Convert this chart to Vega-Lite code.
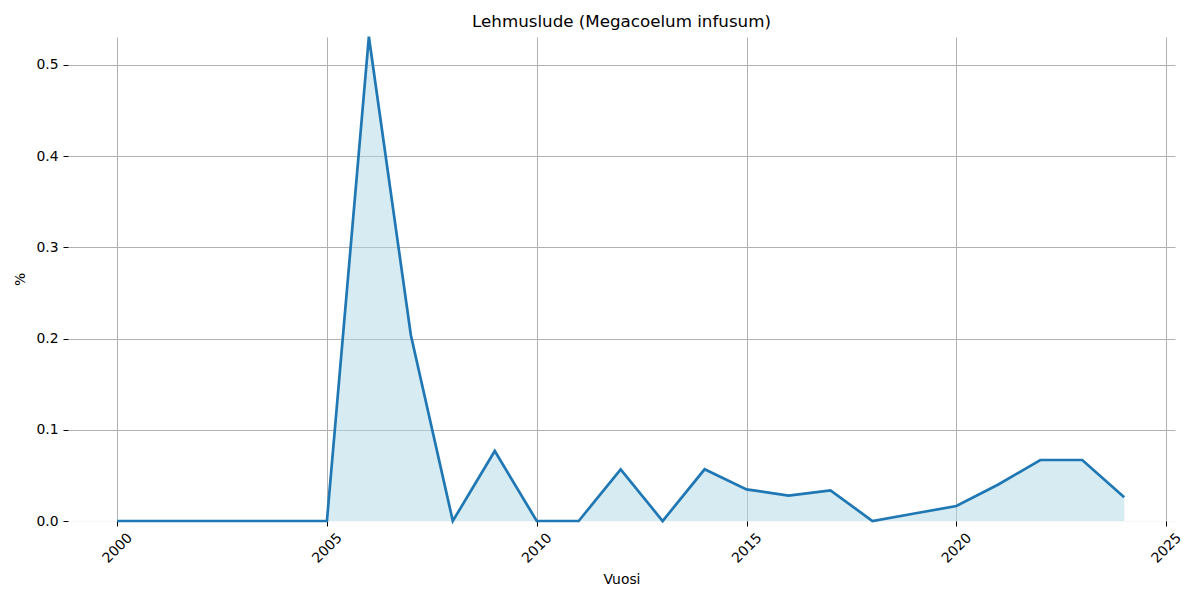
{
  "$schema": "https://vega.github.io/schema/vega-lite/v6.json",
  "width": 1107,
  "height": 484,
  "autosize": {"type": "none"},
  "padding": {"left": 68, "top": 37, "right": 25, "bottom": 79},
  "background": "white",
  "config": {
    "font": "DejaVu Sans",
    "view": {"stroke": null},
    "axis": {
      "domain": false,
      "grid": true,
      "gridColor": "#b0b0b0",
      "gridWidth": 1,
      "tickColor": "#000000",
      "tickSize": 5,
      "tickWidth": 1,
      "labelFont": "DejaVu Sans",
      "labelFontSize": 13.9,
      "labelColor": "#000000",
      "titleFont": "DejaVu Sans",
      "titleFontSize": 13.9,
      "titleFontWeight": "normal",
      "titleColor": "#000000"
    },
    "title": {"font": "DejaVu Sans", "fontSize": 16.7, "fontWeight": "normal", "color": "#000000", "offset": 9, "baseline": "alphabetic", "dy": 8}
  },
  "title": {"text": "Lehmuslude (Megacoelum infusum)", "anchor": "middle"},
  "data": {
    "values": [
      {"Vuosi": 2000, "pct": 0},
      {"Vuosi": 2001, "pct": 0},
      {"Vuosi": 2002, "pct": 0},
      {"Vuosi": 2003, "pct": 0},
      {"Vuosi": 2004, "pct": 0},
      {"Vuosi": 2005, "pct": 0},
      {"Vuosi": 2006, "pct": 0.531},
      {"Vuosi": 2007, "pct": 0.204},
      {"Vuosi": 2008, "pct": 0},
      {"Vuosi": 2009, "pct": 0.0768},
      {"Vuosi": 2010, "pct": 0},
      {"Vuosi": 2011, "pct": 0},
      {"Vuosi": 2012, "pct": 0.0567},
      {"Vuosi": 2013, "pct": 0},
      {"Vuosi": 2014, "pct": 0.0567},
      {"Vuosi": 2015, "pct": 0.0347},
      {"Vuosi": 2016, "pct": 0.0278},
      {"Vuosi": 2017, "pct": 0.0336},
      {"Vuosi": 2018, "pct": 0},
      {"Vuosi": 2019, "pct": 0.0082},
      {"Vuosi": 2020, "pct": 0.0164},
      {"Vuosi": 2021, "pct": 0.040},
      {"Vuosi": 2022, "pct": 0.0669},
      {"Vuosi": 2023, "pct": 0.0669},
      {"Vuosi": 2024, "pct": 0.026}
    ]
  },
  "encoding": {
    "x": {
      "field": "Vuosi",
      "type": "quantitative",
      "scale": {"domain": [1998.83, 2025.21], "nice": false, "zero": false},
      "axis": {
        "values": [2000, 2005, 2010, 2015, 2020, 2025],
        "format": "d",
        "labelAngle": -45,
        "labelAlign": "center",
        "labelBaseline": "middle",
        "labelPadding": 22,
        "title": "Vuosi",
        "titlePadding": 7
      }
    },
    "y": {
      "field": "pct",
      "type": "quantitative",
      "scale": {"domain": [0, 0.5307], "nice": false},
      "axis": {
        "values": [0, 0.1, 0.2, 0.3, 0.4, 0.5],
        "format": ".1f",
        "labelPadding": 5,
        "title": "%",
        "titlePadding": 8,
        "gridOpacity": {"condition": {"test": "datum.value === 0", "value": 0.1}, "value": 1}
      }
    }
  },
  "layer": [
    {"mark": {"type": "area", "color": "#add8e6", "opacity": 0.5}},
    {"mark": {"type": "line", "color": "#1f77b4", "strokeWidth": 2.7, "clip": false}}
  ]
}
